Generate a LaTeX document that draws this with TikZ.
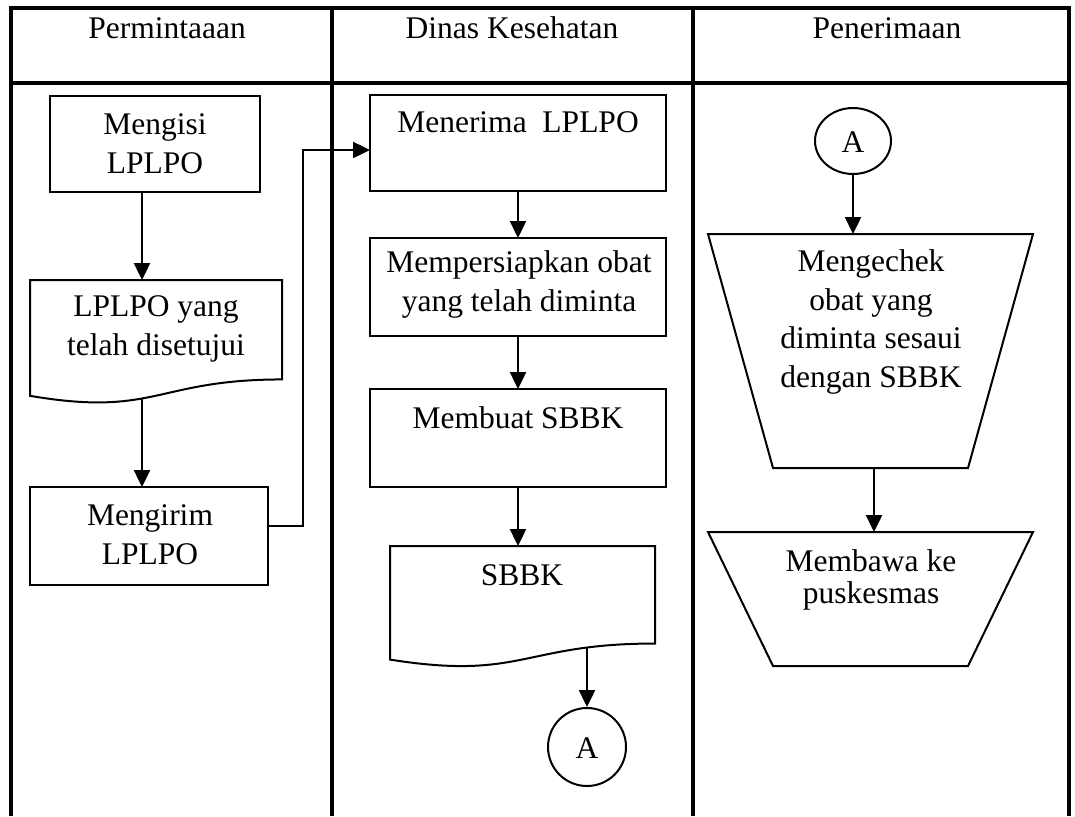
\documentclass[tikz,border=0pt]{standalone}
\usepackage{fontspec}
\setmainfont{Liberation Serif}
\usetikzlibrary{arrows.meta,calc,shapes.geometric}
\begin{document}
\begin{tikzpicture}[x=1pt,y=-1pt,
  tbl/.style={line width=3.2pt,line join=miter},
  box/.style={draw,line width=2pt,fill=white,inner sep=0pt,outer sep=0pt},
  blank/.style={inner sep=0pt,outer sep=0pt},
  shp/.style={draw,line width=2pt,fill=white},
  arr/.style={line width=2.4pt,-{Triangle[length=17pt,width=16pt]}},
  txt/.style={font=\fontsize{31.5}{38.5}\selectfont,align=center,inner sep=0pt,anchor=base}]
\useasboundingbox (0,0) rectangle (1075,816);
% table
\draw[tbl] (11,816) -- (11,8) -- (1069,8) -- (1069,816);
\draw[tbl] (11,83) -- (1069,83);
\draw[tbl] (332,8) -- (332,816);
\draw[tbl] (693,8) -- (693,816);
% headers
\node[txt] (h1) at (167,39) {Permintaaan};
\node[txt] (h2) at (512,39) {Dinas Kesehatan};
\node[txt] (h3) at (887,39) {Penerimaan};
% column 1
\node[box,minimum width=210pt,minimum height=96pt] (b1) at (155,144) {};
\node[blank,minimum width=252pt,minimum height=124pt] (d1) at (156,342) {};
\draw[shp] (d1.north west) -- (d1.north east) -- ($(d1.north east)!0.802!(d1.south east)$)
  .. controls ($(d1.north)!0.802!(d1.south)$) and ($(d1.north)!1.1075!(d1.south)$)
  .. ($(d1.north west)!0.934!(d1.south west)$) -- cycle;
\node[box,minimum width=238pt,minimum height=98pt] (b2) at (149,536) {};
\node[txt] (tb1) at (155,173) {Mengisi\\LPLPO};
\node[txt] (td1) at (156,355) {LPLPO yang\\telah disetujui};
\node[txt] (tb2) at (150,564) {Mengirim\\LPLPO};
\draw[arr] ($(b1.south)+(-13,0)$) -- ($(d1.north)+(-14,0)$);
\draw[arr] ($(d1.north west)+(112,118)$) -- ($(b2.north)+(-7,0)$);
% column 2
\node[box,minimum width=296pt,minimum height=96pt] (m1) at (518,143) {};
\node[box,minimum width=296pt,minimum height=98pt] (m2) at (518,287) {};
\node[box,minimum width=296pt,minimum height=98pt] (m3) at (518,438) {};
\node[blank,minimum width=265pt,minimum height=121.6pt] (d2) at (522.5,606.8) {};
\draw[shp] (d2.north west) -- (d2.north east) -- ($(d2.north east)!0.802!(d2.south east)$)
  .. controls ($(d2.north)!0.802!(d2.south)$) and ($(d2.north)!1.1075!(d2.south)$)
  .. ($(d2.north west)!0.934!(d2.south west)$) -- cycle;
\node[circle,draw,line width=2pt,minimum size=78pt,inner sep=0pt] (a1) at (587,747) {};
\node[txt] (tm1) at (518,132) {Menerima\ \ LPLPO};
\node[txt] (tm2) at (519,311) {Mempersiapkan obat\\yang telah diminta};
\node[txt] (tm3) at (518,428) {Membuat SBBK};
\node[txt] (td2) at (522,585) {SBBK};
\node[txt] (ta1) at (587,758) {A};
\draw[arr] (m1.south) -- (m2.north);
\draw[arr] (m2.south) -- (m3.north);
\draw[arr] (m3.south) -- ($(d2.north)+(-4.5,0)$);
\draw[arr] ($(d2.north west)+(197,101)$) -- (a1.north);
% connector column 1 -> column 2
\draw[arr] ($(b2.east)+(0,-10)$) -- ++(35,0) |- ($(m1.west)+(0,7)$);
% column 3
\node[ellipse,draw,line width=2pt,minimum width=76pt,minimum height=66pt,inner sep=0pt] (a2) at (853,141) {};
\node[blank,minimum width=325pt,minimum height=234pt] (p1) at (870.5,351) {};
\draw[shp] (p1.north west) -- (p1.north east) -- ($(p1.south east)+(-65,0)$) -- ($(p1.south west)+(65,0)$) -- cycle;
\node[blank,minimum width=325pt,minimum height=134pt] (p2) at (870.5,599) {};
\draw[shp] (p2.north west) -- (p2.north east) -- ($(p2.south east)+(-65,0)$) -- ($(p2.south west)+(65,0)$) -- cycle;
\node[txt] (ta2) at (853,152) {A};
\node[txt] (tp1) at (871,387) {Mengechek\\obat yang\\diminta sesaui\\dengan SBBK};
\node[txt,font=\fontsize{31.5}{32}\selectfont] (tp2) at (871,603) {Membawa ke\\puskesmas};
\draw[arr] (a2.south) -- ($(p1.north)+(-17.5,0)$);
\draw[arr] ($(p1.south)+(3.5,0)$) -- ($(p2.north)+(3.5,0)$);
\end{tikzpicture}
\end{document}
